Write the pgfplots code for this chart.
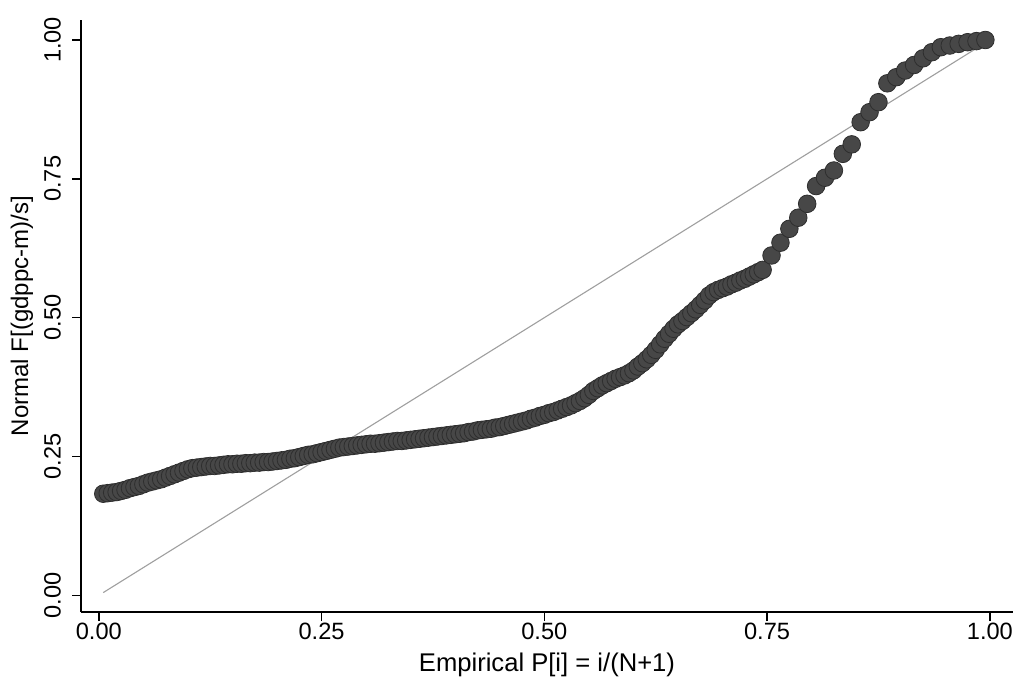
\documentclass[border=0pt]{standalone}
\usepackage{fontspec}
\setmainfont{Liberation Sans}
\usepackage{pgfplots}
\pgfplotsset{compat=1.18}
\usepackage{pgfplotstable}

% P-P plot points: empirical P[i] against normal F
\pgfplotstableread{
x y
0.005 0.183
0.010 0.184
0.015 0.185
0.020 0.186
0.025 0.188
0.030 0.190
0.035 0.193
0.040 0.195
0.045 0.197
0.050 0.200
0.055 0.203
0.060 0.205
0.065 0.207
0.070 0.209
0.075 0.212
0.080 0.215
0.085 0.218
0.090 0.221
0.095 0.224
0.100 0.227
0.105 0.229
0.110 0.230
0.115 0.231
0.120 0.232
0.125 0.233
0.130 0.233
0.135 0.234
0.140 0.235
0.145 0.236
0.150 0.236
0.155 0.237
0.160 0.237
0.165 0.238
0.170 0.238
0.175 0.239
0.180 0.239
0.185 0.240
0.190 0.240
0.195 0.241
0.200 0.242
0.205 0.243
0.210 0.244
0.215 0.246
0.220 0.247
0.225 0.249
0.230 0.251
0.235 0.253
0.240 0.254
0.245 0.256
0.250 0.258
0.255 0.260
0.260 0.262
0.265 0.264
0.270 0.266
0.275 0.267
0.280 0.268
0.285 0.269
0.290 0.270
0.295 0.271
0.300 0.272
0.305 0.273
0.310 0.273
0.315 0.274
0.320 0.275
0.325 0.276
0.330 0.277
0.335 0.278
0.340 0.278
0.345 0.279
0.350 0.280
0.355 0.281
0.360 0.282
0.365 0.283
0.370 0.284
0.375 0.285
0.380 0.286
0.385 0.287
0.390 0.288
0.395 0.289
0.400 0.290
0.405 0.291
0.410 0.292
0.415 0.294
0.420 0.295
0.425 0.297
0.430 0.298
0.435 0.299
0.440 0.300
0.445 0.302
0.450 0.303
0.455 0.305
0.460 0.307
0.465 0.309
0.470 0.311
0.475 0.313
0.480 0.315
0.485 0.318
0.490 0.320
0.495 0.323
0.500 0.325
0.505 0.328
0.510 0.330
0.515 0.333
0.520 0.336
0.525 0.339
0.530 0.342
0.535 0.346
0.540 0.350
0.545 0.355
0.550 0.361
0.555 0.368
0.560 0.373
0.565 0.378
0.570 0.382
0.575 0.386
0.580 0.390
0.585 0.393
0.590 0.396
0.595 0.400
0.600 0.405
0.605 0.412
0.610 0.418
0.615 0.425
0.620 0.433
0.625 0.442
0.630 0.452
0.635 0.462
0.640 0.471
0.645 0.480
0.650 0.488
0.655 0.494
0.660 0.501
0.665 0.508
0.670 0.515
0.675 0.523
0.680 0.531
0.685 0.540
0.690 0.546
0.695 0.550
0.700 0.553
0.705 0.556
0.710 0.560
0.715 0.563
0.720 0.567
0.725 0.570
0.730 0.574
0.735 0.578
0.740 0.582
0.745 0.586
0.755 0.612
0.765 0.635
0.775 0.660
0.785 0.680
0.795 0.705
0.805 0.737
0.815 0.752
0.825 0.765
0.835 0.795
0.845 0.812
0.855 0.852
0.865 0.870
0.875 0.888
0.885 0.922
0.895 0.933
0.905 0.945
0.915 0.955
0.925 0.967
0.935 0.978
0.945 0.987
0.955 0.990
0.965 0.993
0.975 0.996
0.985 0.998
0.995 1.000
}\ppdata

\begin{document}
\begin{tikzpicture}
\useasboundingbox (-40.5pt,-34pt) rectangle (469.5pt,306pt);
\begin{axis}[
    at={(0,0)}, anchor=south west,
    scale only axis,
    width=466pt, height=296pt,
    xmin=-0.020, xmax=1.026,
    ymin=-0.030, ymax=1.036,
    axis lines*=left,
    axis line style={black, line width=0.8pt, -},
    tick align=outside,
    major tick length=4.5pt,
    tick style={black, line width=0.8pt},
    xtick={0,0.25,0.5,0.75,1},
    ytick={0,0.25,0.5,0.75,1},
    xticklabels={0.00,0.25,0.50,0.75,1.00},
    yticklabels={0.00,0.25,0.50,0.75,1.00},
    /pgf/number format/assume math mode=true,
    ticklabel style={font=\fontsize{11.8}{13}\selectfont},
    xticklabel shift=0pt,
    xticklabel style={inner sep=1pt},
    yticklabel style={rotate=90, anchor=south},
    yticklabel shift=2pt,
    xlabel={Empirical P[i] = i/(N+1)},
    ylabel={Normal F[(gdppc-m)/s]},
    xlabel style={font=\fontsize{12.8}{14}\selectfont, inner sep=0pt,
        at={(axis description cs:0.5,0)}, anchor=base, yshift=-29.5pt},
    ylabel style={font=\fontsize{12}{14}\selectfont,
        at={(axis description cs:-0.0633,0.5)}, anchor=center},
    clip=false,
]
\addplot[only marks, mark=*, mark size=4.4pt,
    mark options={fill=black!72, draw=black!82, line width=0.4pt}]
    table[x=x, y=y] {\ppdata};
\addplot[gray!75, line width=0.55pt] coordinates {(0.005,0.005) (0.995,0.995)};
\end{axis}
\end{tikzpicture}
\end{document}
